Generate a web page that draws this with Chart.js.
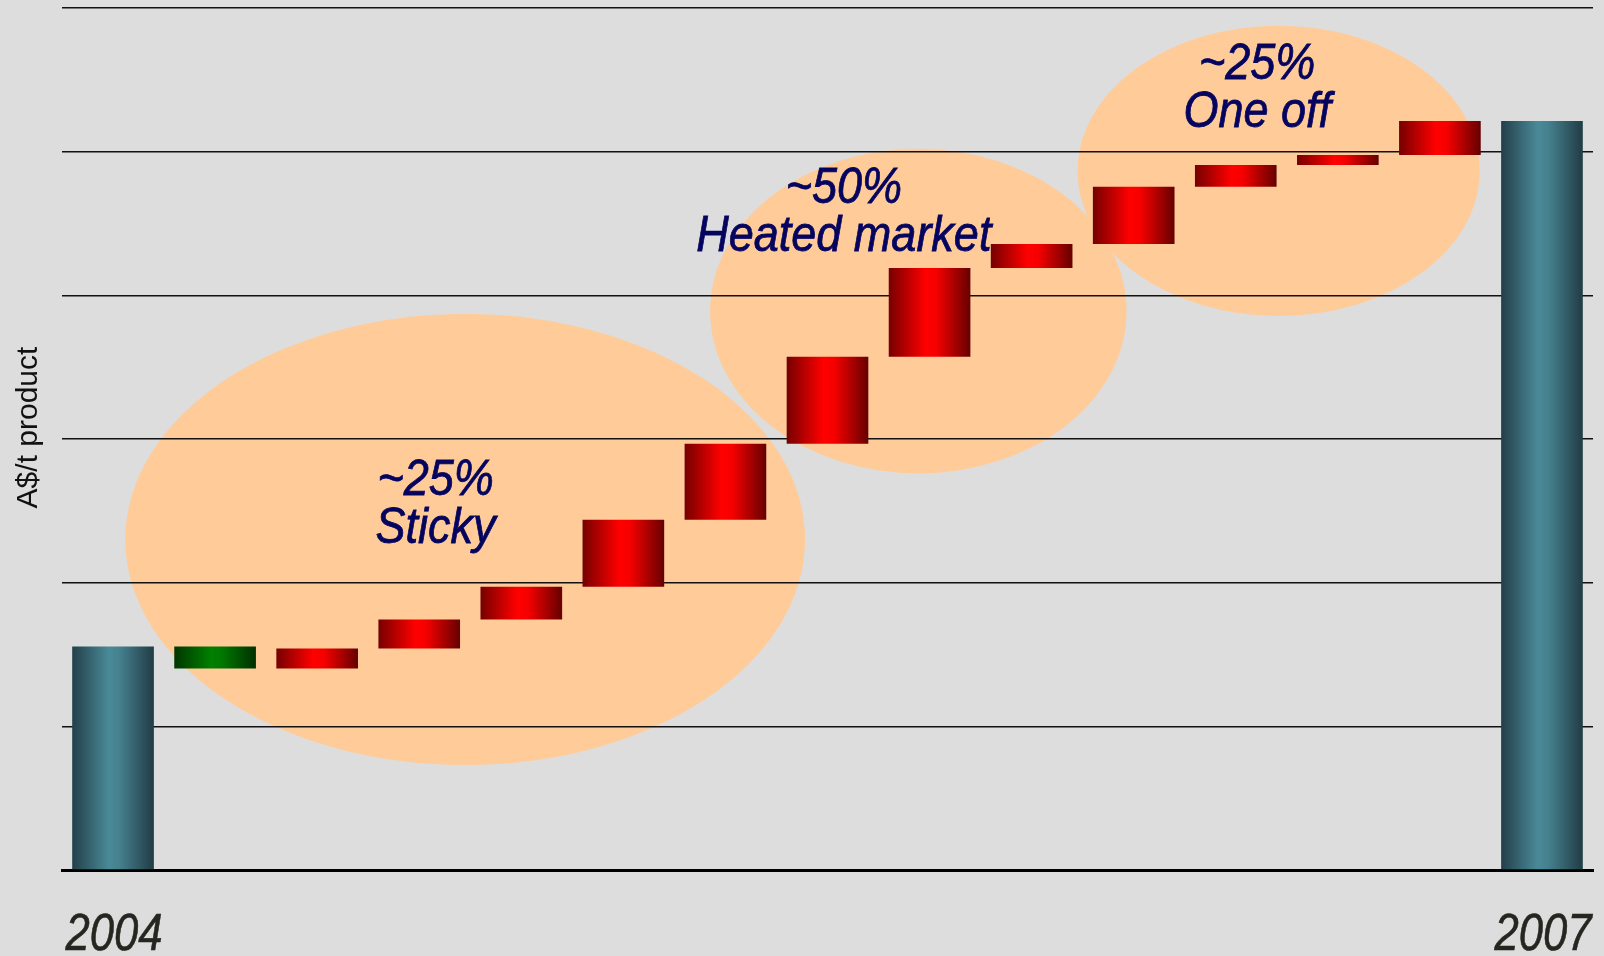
<!DOCTYPE html>
<html>
<head>
<meta charset="utf-8">
<script src="https://cdn.jsdelivr.net/npm/chart.js@4.4.1/dist/chart.umd.min.js"></script>
<style>
    html, body { margin: 0; padding: 0; background: #dddddd; }
    #wrap { width: 1604px; height: 956px; position: relative; }
</style>
</head>
<body>
<div id="wrap"><canvas id="Waterfall_Chart"></canvas></div>
<script>
// ----------------------------
// DATA (A$/t product - no scale printed)
// ----------------------------
const categories = ['2004', '', '', '', '', '', '', '', '', '', '', '', '', '', '2007'];
const startTotal = 155.5;
const changes = [-15.3, 13.9, 20.2, 22.9, 46.6, 52.9, 60.5, 61.9, 16.7, 39.7, 15.3, 6.9, 23.7];
const endTotal = 521.4;
const yTicks = [0, 100, 200, 300, 400, 500, 600];
const yTitle = 'A$/t product';
const groupLabels = [['~25%', 'Sticky'], ['~50%', 'Heated market'], ['~25%', 'One off']];

// floating bars for the waterfall
const barData = [[0, startTotal]];
let level = startTotal;
changes.forEach(c => {
    barData.push([level, level + c]);
    level += c;
});
barData.push([0, endTotal]);

// ellipses + their text, placed in axis units (category index / A$/t)
const zones = [
    { cx: 3.45, cy: 230, rx: 3.33, ry: 157, tx: 3.16, ty: 261.2 },
    { cx: 7.89, cy: 389, rx: 2.04, ry: 113, tx: 7.16, ty: 464.3 },
    { cx: 11.42, cy: 486.6, rx: 1.97, ry: 101, tx: 11.21, ty: 550.3 }
];

const BAR_PCT = 0.8;

const palette = {
    total: ['#233f49', '#4a8a98', '#45808e', '#213c45'],
    down: ['#003600', '#008000', '#007800', '#003000'],
    up: ['#760000', '#ff0000', '#f60000', '#660000']
};

function barKind(i) {
    if (i === 0 || i === barData.length - 1) return 'total';
    return changes[i - 1] < 0 ? 'down' : 'up';
}

function barFill(context) {
    const chart = context.chart;
    const xs = chart.scales.x;
    if (context.type !== 'data' || !xs) return '#ff0000';
    const cols = palette[barKind(context.dataIndex)];
    const cx = xs.getPixelForValue(context.dataIndex);
    const half = xs.width / categories.length * BAR_PCT / 2;
    if (!isFinite(cx) || !isFinite(half)) return cols[1];
    const g = chart.ctx.createLinearGradient(cx - half, 0, cx + half, 0);
    g.addColorStop(0, cols[0]);
    g.addColorStop(0.45, cols[1]);
    g.addColorStop(0.58, cols[2]);
    g.addColorStop(1, cols[3]);
    return g;
}

// condensed italic text (no narrow font installed, so squeeze it)
function squeezedText(ctx, text, x, y, sx) {
    ctx.save();
    ctx.translate(x, y);
    ctx.scale(sx, 1);
    ctx.fillText(text, 0, 0);
    ctx.strokeText(text, 0, 0);
    ctx.restore();
}

const zonePlugin = {
    id: 'zones',
    beforeDraw(chart) {
        const ctx = chart.ctx;
        const xs = chart.scales.x, ys = chart.scales.y;
        ctx.save();
        ctx.fillStyle = '#dddddd';
        ctx.fillRect(0, 0, chart.width, chart.height);
        const unitX = xs.getPixelForValue(1) - xs.getPixelForValue(0);
        ctx.fillStyle = '#ffcc99';
        zones.forEach(z => {
            ctx.beginPath();
            ctx.ellipse(xs.getPixelForValue(z.cx), ys.getPixelForValue(z.cy),
                z.rx * unitX, ys.getPixelForValue(0) - ys.getPixelForValue(z.ry), 0, 0, Math.PI * 2);
            ctx.fill();
        });
        ctx.restore();
    },
    afterDatasetsDraw(chart) {
        const ctx = chart.ctx;
        const xs = chart.scales.x, ys = chart.scales.y;
        ctx.save();
        ctx.textAlign = 'center';
        ctx.textBaseline = 'alphabetic';

        // group notes
        ctx.fillStyle = '#05055f';
        ctx.strokeStyle = '#05055f';
        ctx.lineWidth = 0.8;
        ctx.font = 'italic 50px "Liberation Sans", Arial, sans-serif';
        zones.forEach((z, k) => {
            const x = xs.getPixelForValue(z.tx);
            const y = ys.getPixelForValue(z.ty);
            groupLabels[k].forEach((line, j) => squeezedText(ctx, line, x, y + j * 48, 0.9));
        });

        // category labels under the axis
        ctx.fillStyle = '#262620';
        ctx.strokeStyle = '#262620';
        ctx.lineWidth = 0.6;
        ctx.font = 'italic 52px "Liberation Sans", Arial, sans-serif';
        categories.forEach((c, i) => {
            if (c) squeezedText(ctx, c, xs.getPixelForValue(i) + 1, xs.bottom - 6, 0.84);
        });

        // value axis title, a bit above the middle of the plot
        ctx.fillStyle = '#111111';
        ctx.font = '30px "Liberation Sans", Arial, sans-serif';
        ctx.textBaseline = 'middle';
        ctx.translate(28.5, ys.getPixelForValue(308));
        ctx.rotate(-Math.PI / 2);
        ctx.fillText(yTitle, 0, 0);
        ctx.restore();
    }
};

const ctx = document.getElementById('Waterfall_Chart').getContext('2d');

new Chart(ctx, {
    type: 'bar',
    data: {
        labels: categories,
        datasets: [{
            data: barData,
            backgroundColor: barFill,
            borderWidth: 0,
            borderSkipped: false,
            barPercentage: BAR_PCT,
            categoryPercentage: 1
        }]
    },
    options: {
        responsive: true,
        maintainAspectRatio: false,
        animation: false,
        layout: { padding: { top: 8, right: 11, left: 0, bottom: 0 } },
        plugins: {
            legend: { display: false },
            tooltip: { enabled: false }
        },
        scales: {
            x: {
                offset: true,
                grid: { display: false },
                border: { display: true, color: '#000000', width: 3 },
                ticks: { display: false },
                afterFit: (scale) => {
                    scale.height = 86;
                    scale.paddingLeft = 0;
                    scale.paddingRight = 0;
                }
            },
            y: {
                min: 0,
                max: 600,
                afterBuildTicks: (scale) => { scale.ticks = yTicks.map(v => ({ value: v })); },
                ticks: { display: false },
                grid: { color: '#111111', lineWidth: 1.6, drawTicks: false },
                border: { display: false },
                afterFit: (scale) => { scale.width = 62; }
            }
        }
    },
    plugins: [zonePlugin]
});
</script>
</body>
</html>
